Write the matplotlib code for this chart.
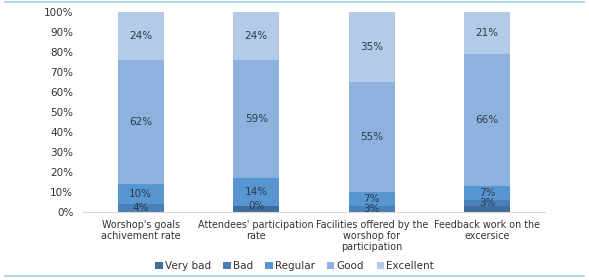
import matplotlib
matplotlib.use('Agg')
import matplotlib.pyplot as plt
import numpy as np

categories = ["Worshop's goals\nachivement rate",
              "Attendees' participation\nrate",
              "Facilities offered by the\nworshop for\nparticipation",
              "Feedback work on the\nexcersice"]
series = ['Very bad', 'Bad', 'Regular', 'Good', 'Excellent']
very_bad = [0, 3, 0, 3]
bad = [4, 0, 3, 3]
regular = [10, 14, 7, 7]
good = [62, 59, 55, 66]
excellent = [24, 24, 35, 21]
values = [very_bad, bad, regular, good, excellent]
show_labels = [False, True, True, True, True]
colors = ['#3f6e9c', '#4a7fb8', '#5896d2', '#8cb2dd', '#b3cbe7']

fig = plt.figure(figsize=(5.89, 2.8), dpi=100)
ax = fig.add_axes([83/589, 68/280, 462/589, 200/280])

x = np.arange(len(categories))
bottom = np.zeros(len(categories))
for name, vals, col, lab in zip(series, values, colors, show_labels):
    vals = np.array(vals, dtype=float)
    ax.bar(x, vals, 0.4, bottom=bottom, color=col, label=name)
    if lab:
        for xi, b, v in zip(x, bottom, vals):
            ax.text(xi, b + v / 2, f'{int(v)}%', ha='center', va='center',
                    fontsize=7.5, color='#2b3a4a')
    bottom += vals

ax.set_xlim(-0.5, 3.5)
ax.set_ylim(0, 100)
ax.set_yticks(range(0, 101, 10))
ax.set_yticklabels([f'{t}%' for t in range(0, 101, 10)])
ax.set_xticks(x)
ax.set_xticklabels(categories, fontsize=6.9, linespacing=1.1)
ax.tick_params(axis='both', length=0, colors='#333333')
ax.tick_params(axis='y', pad=7, labelsize=7.5)
ax.tick_params(axis='x', pad=6)
for s in ['top', 'right', 'left']:
    ax.spines[s].set_visible(False)
ax.spines['bottom'].set_color('#d9d9d9')

ax.legend(loc='center', ncol=5, frameon=False, fontsize=7.5, handlelength=0.7,
          handleheight=0.7, handletextpad=0.2, columnspacing=1.2, labelcolor='#333333')
leg = ax.get_legend()
leg.set_bbox_to_anchor((0.5, 1 - 266/280), transform=fig.transFigure)

fig.add_artist(plt.Line2D([5/589, 584/589], [1 - 2/280, 1 - 2/280], color='#9dd4ea', lw=1.2))
fig.add_artist(plt.Line2D([5/589, 584/589], [1 - 276/280, 1 - 276/280], color='#9dd4ea', lw=1.2))

fig.savefig('out.png', dpi=100)
